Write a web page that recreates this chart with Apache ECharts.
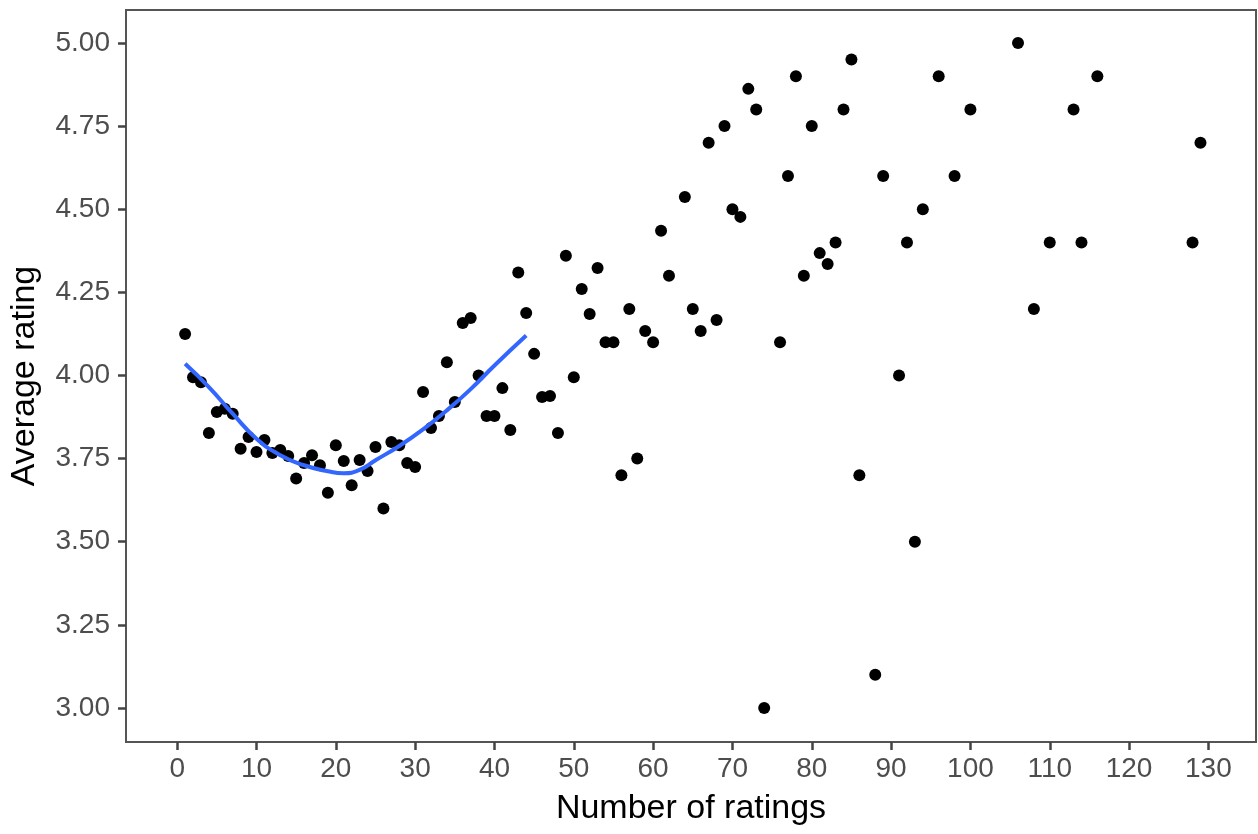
<!DOCTYPE html>
<html>
<head>
<meta charset="utf-8">
<script src="https://cdn.jsdelivr.net/npm/echarts@6/dist/echarts.min.js"></script>
<style>html,body{margin:0;padding:0;background:#fff}#c{width:1258px;height:834px}</style>
</head>
<body>
<div id="c"></div>
<script>
const numRatings = [1,2,3,4,5,6,7,8,9,10,11,12,13,14,15,16,17,18,19,20,21,22,23,24,25,26,27,28,29,30,31,32,33,34,35,36,37,38,39,40,41,42,43,44,45,46,47,48,49,50,51,52,53,54,55,56,57,58,59,60,61,62,64,65,66,67,68,69,70,71,72,73,74,76,77,78,79,80,81,82,83,84,85,86,88,89,91,92,93,94,96,98,100,106,108,110,113,114,116,128,129];
const avgRating = [4.125,3.995,3.98,3.827,3.89,3.90,3.885,3.78,3.815,3.77,3.806,3.767,3.776,3.758,3.69,3.737,3.76,3.73,3.647,3.79,3.743,3.67,3.746,3.713,3.785,3.6,3.8,3.79,3.737,3.725,3.95,3.842,3.878,4.04,3.92,4.158,4.173,4.0,3.878,3.878,3.962,3.836,4.31,4.188,4.065,3.935,3.938,3.827,4.36,3.995,4.26,4.185,4.323,4.1,4.1,3.7,4.2,3.75,4.134,4.1,4.435,4.3,4.537,4.2,4.134,4.7,4.167,4.75,4.5,4.477,4.862,4.8,3.0,4.1,4.6,4.9,4.3,4.75,4.368,4.335,4.4,4.8,4.95,3.7,3.1,4.6,4.0,4.4,3.5,4.5,4.9,4.6,4.8,5.0,4.2,4.4,4.8,4.4,4.9,4.4,4.7];
const smoothX = [1,4,7,10,13,16,19,21,23,25,28,31,34,37,40,44];
const smoothY = [4.035,3.965,3.885,3.81,3.76,3.73,3.712,3.706,3.716,3.745,3.788,3.838,3.895,3.959,4.03,4.12];
const xTicks = [0,10,20,30,40,50,60,70,80,90,100,110,120,130];
const yTicks = [3.00,3.25,3.50,3.75,4.00,4.25,4.50,4.75,5.00];

const pts = numRatings.map((x,i)=>[x,avgRating[i]]);
const line = smoothX.map((x,i)=>[x,smoothY[i]]);
const chart = echarts.init(document.getElementById('c'));
const font = '"Liberation Sans", Arial, sans-serif';
chart.setOption({
  animation:false,
  grid:{left:125,right:2,top:10,bottom:92,show:true,borderColor:'#555',borderWidth:2,backgroundColor:'#fff'},
  xAxis:{type:'value',min:-6.45,max:136,interval:10,
    name:'Number of ratings',nameLocation:'middle',nameGap:50,
    nameTextStyle:{fontFamily:font,fontSize:34,color:'#000'},
    axisLine:{show:true,onZero:false,lineStyle:{color:'#555',width:2}},
    axisTick:{show:true,length:8,lineStyle:{color:'#444',width:2.5},customValues:xTicks},
    axisLabel:{fontFamily:font,fontSize:28,color:'#4D4D4D',margin:13,customValues:xTicks,formatter:v=>String(v)},
    splitLine:{show:false}},
  yAxis:{type:'value',min:2.8977,max:5.0992,
    name:'Average rating',nameLocation:'middle',nameGap:84,nameRotate:90,
    nameTextStyle:{fontFamily:font,fontSize:34,color:'#000'},
    axisLine:{show:true,onZero:false,lineStyle:{color:'#555',width:2}},
    axisTick:{show:true,length:8,lineStyle:{color:'#444',width:2.5},customValues:yTicks},
    axisLabel:{fontFamily:font,fontSize:28,color:'#4D4D4D',margin:16,customValues:yTicks,formatter:v=>v.toFixed(2)},
    splitLine:{show:false}},
  series:[
    {type:'scatter',data:pts,symbolSize:12,itemStyle:{color:'#000',opacity:1},z:2},
    {type:'line',data:line,smooth:0.5,showSymbol:false,lineStyle:{color:'#3366FF',width:4},z:3}
  ]
});
</script>
</body>
</html>
